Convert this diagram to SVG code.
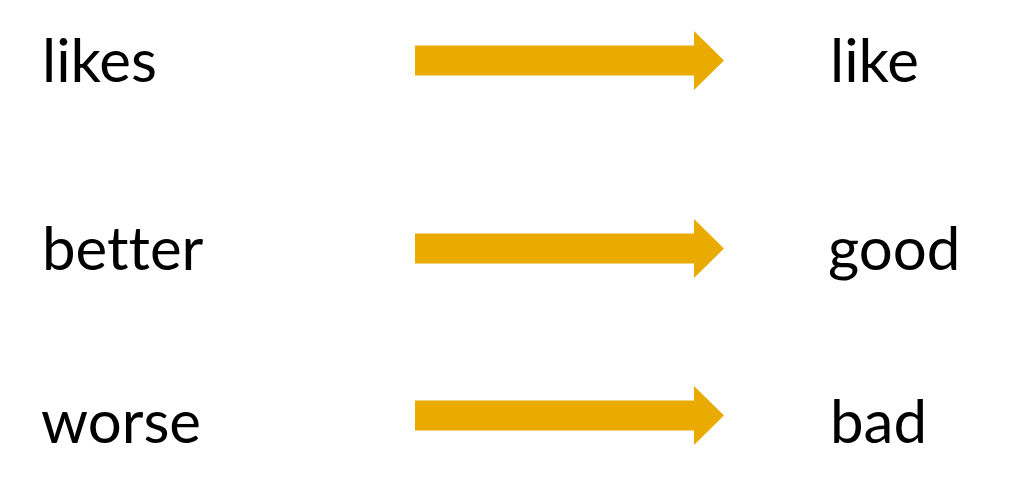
<svg xmlns="http://www.w3.org/2000/svg" width="1021" height="496" viewBox="0 0 1021 496">
<style>
.t{font-family:Lato,"Open Sans","Liberation Sans",sans-serif;font-size:60px;fill:#000;font-variant-ligatures:none;font-feature-settings:"liga" 0}
.a{fill:#EAAB00}
</style>
<defs>
<path id="arr" d="M0,-15 H279 V-29.5 L309,0 L279,29.5 V15 H0 Z"/>
</defs>
<rect width="1021" height="496" fill="#fff"/>
<g id="n-likes"><text class="t" x="42" y="82">likes</text></g>
<g id="n-better"><text class="t" x="42" y="270">better</text></g>
<g id="n-worse"><text class="t" x="41" y="443">worse</text></g>
<g id="n-like"><text class="t" x="830" y="82">like</text></g>
<g id="n-good"><text class="t" x="828" y="270">good</text></g>
<g id="n-bad"><text class="t" x="830" y="443">bad</text></g>
<g id="connectors">
<use href="#arr" class="a" x="415" y="60.5"/>
<use href="#arr" class="a" x="415" y="248.5"/>
<use href="#arr" class="a" x="415" y="415.5"/>
</g>
</svg>
